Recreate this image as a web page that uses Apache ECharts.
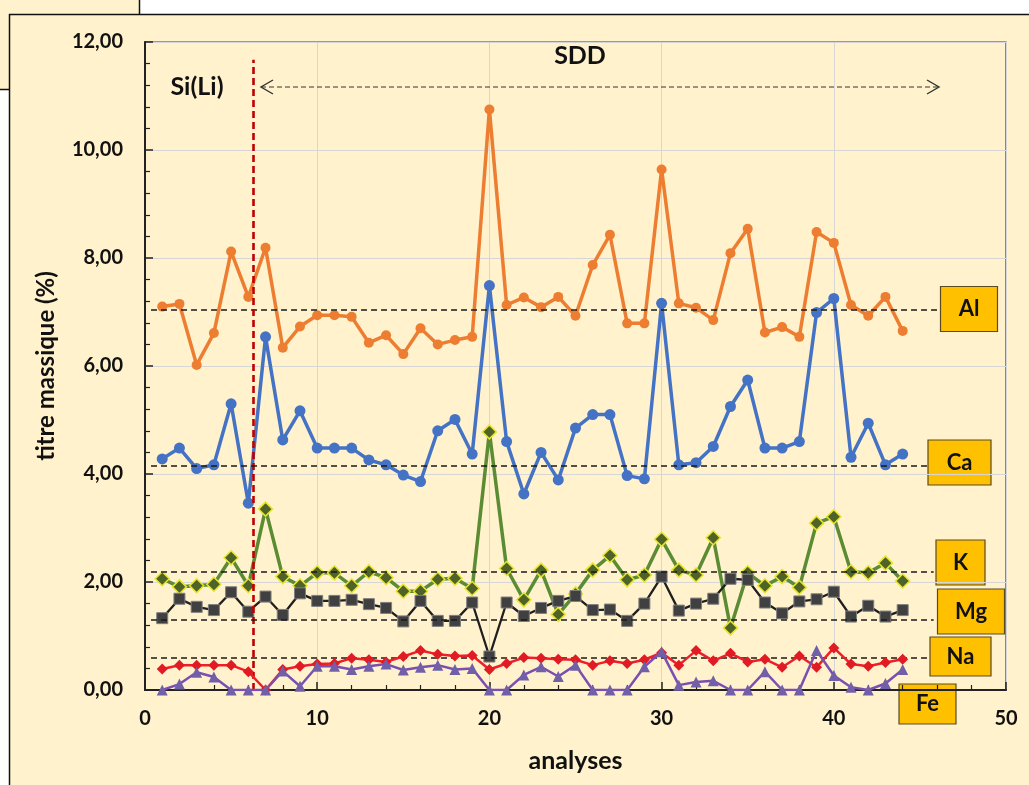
<!DOCTYPE html>
<html><head><meta charset="utf-8">
<script src="https://cdn.jsdelivr.net/npm/echarts@6/dist/echarts.min.js"></script>
<style>html,body{margin:0;padding:0;background:#fff;}#c{width:1029px;height:785px;}</style>
</head><body><div id="c"></div>
<script>
// ---- data ----
const analyses = [1,2,3,4,5,6,7,8,9,10,11,12,13,14,15,16,17,18,19,20,21,22,23,24,25,26,27,28,29,30,31,32,33,34,35,36,37,38,39,40,41,42,43,44];
const Al = [7.10,7.15,6.02,6.61,8.12,7.28,8.19,6.34,6.73,6.94,6.94,6.91,6.43,6.57,6.22,6.70,6.40,6.48,6.54,10.75,7.13,7.27,7.09,7.28,6.93,7.87,8.43,6.79,6.79,9.64,7.16,7.08,6.85,8.09,8.54,6.62,6.72,6.54,8.48,8.28,7.13,6.93,7.28,6.65];
const Ca = [4.28,4.48,4.10,4.17,5.30,3.46,6.54,4.63,5.17,4.48,4.48,4.48,4.26,4.17,3.98,3.86,4.80,5.01,4.37,7.49,4.60,3.63,4.40,3.89,4.85,5.10,5.10,3.97,3.91,7.16,4.17,4.21,4.51,5.25,5.74,4.48,4.48,4.60,6.99,7.25,4.31,4.94,4.17,4.37];
const K  = [2.06,1.91,1.93,1.96,2.45,1.93,3.35,2.10,1.93,2.17,2.17,1.93,2.19,2.08,1.83,1.83,2.05,2.07,1.88,4.78,2.25,1.67,2.22,1.40,1.78,2.22,2.49,2.04,2.13,2.79,2.22,2.13,2.82,1.15,2.17,1.93,2.10,1.90,3.09,3.21,2.19,2.17,2.35,2.02];
const Mg = [1.33,1.69,1.54,1.48,1.81,1.45,1.73,1.39,1.79,1.65,1.65,1.67,1.59,1.52,1.27,1.65,1.28,1.28,1.62,0.62,1.62,1.37,1.52,1.65,1.74,1.48,1.49,1.28,1.60,2.10,1.47,1.60,1.69,2.06,2.04,1.62,1.42,1.64,1.68,1.82,1.36,1.56,1.36,1.48];
const Na = [0.39,0.46,0.46,0.46,0.46,0.34,0.00,0.38,0.44,0.48,0.49,0.59,0.56,0.52,0.62,0.73,0.66,0.63,0.64,0.38,0.49,0.60,0.59,0.57,0.56,0.46,0.54,0.49,0.56,0.69,0.46,0.73,0.54,0.68,0.52,0.57,0.42,0.63,0.42,0.78,0.48,0.44,0.51,0.57];
const Fe = [0.00,0.11,0.33,0.24,0.00,0.00,0.00,0.35,0.07,0.44,0.44,0.38,0.44,0.48,0.37,0.42,0.46,0.38,0.40,0.00,0.00,0.28,0.43,0.25,0.46,0.00,0.00,0.00,0.43,0.71,0.09,0.15,0.17,0.00,0.00,0.34,0.00,0.00,0.73,0.27,0.05,0.00,0.12,0.38];
const refAl = 7.05, refCa = 4.15, refK = 2.19, refMg = 1.30, refNa = 0.60;
const detectorSwitch = 6.3;
const yTicks = [0,2,4,6,8,10,12];
const xTicks = [0,10,20,30,40,50];

const FONT = 'Lato, "Open Sans", sans-serif';
const pts = arr => analyses.map((x,i)=>[x, arr[i]]);
const refLine = (v, xEnd) => ({
  silent:true, symbol:['none','none'], animation:false,
  label:{show:false},
  lineStyle:{type:[6,4], color:'#1a1a1a', width:1.6},
  emphasis:{disabled:true},
  data:[[{coord:[0.35, v]},{coord:[xEnd, v]}]]
});

const chart = echarts.init(document.getElementById('c'), null, {renderer:'canvas'});

const box = (cx, cy, w, h, txt) => ({
  type:'group', z:100,
  children:[
    {type:'rect', shape:{x:cx-w/2, y:cy-h/2, width:w, height:h},
     style:{fill:'#FFC000', stroke:'#5a4a20', lineWidth:1.2}},
    {type:'text', x:cx, y:cy, style:{text:txt, fill:'#111', font:'bold 22px '+FONT, align:'center', verticalAlign:'middle'}}
  ]
});

const option = {
  backgroundColor:'#FFF2CC',
  animation:false,
  grid:{left:145, top:42, right:23, bottom:95, show:true, borderColor:'#404040', borderWidth:1.2, backgroundColor:'#FFF2CC'},
  xAxis:{
    type:'value', min:0, max:50, interval:10,
    name:'analyses', nameLocation:'middle', nameGap:58,
    nameTextStyle:{fontFamily:FONT, fontWeight:'bold', fontSize:25, color:'#111'},
    axisLine:{show:true, onZero:false, lineStyle:{color:'#222', width:2}},
    axisTick:{show:true, inside:true, length:8, lineStyle:{color:'#222', width:1.5}},
    minorTick:{show:true, splitNumber:5, length:5, lineStyle:{color:'#222', width:1.2}},
    splitLine:{show:true, lineStyle:{color:'#D6D6D6', width:1}},
    axisLabel:{margin:19, fontFamily:FONT, fontWeight:'bold', fontSize:20, color:'#111',
      formatter: v => xTicks.includes(v) ? String(v) : ''}
  },
  yAxis:{
    type:'value', min:0, max:12, interval:2,
    name:'titre massique (%)', nameLocation:'middle', nameGap:87,
    nameTextStyle:{fontFamily:FONT, fontWeight:'bold', fontSize:24, color:'#111'},
    axisLine:{show:true, lineStyle:{color:'#222', width:2}},
    axisTick:{show:true, inside:true, length:8, lineStyle:{color:'#222', width:1.5}},
    minorTick:{show:true, splitNumber:5, length:5, lineStyle:{color:'#222', width:1.2}},
    splitLine:{show:true, lineStyle:{color:'#D6D6D6', width:1}},
    axisLabel:{margin:22, fontFamily:FONT, fontWeight:'bold', fontSize:20, color:'#111',
      formatter: v => yTicks.includes(v) ? v.toFixed(2).replace('.', ',') : ''}
  },
  series:[
    {name:'Al', type:'line', data:pts(Al), symbol:'circle', symbolSize:10,
     lineStyle:{color:'#ED7D31', width:3.5}, itemStyle:{color:'#ED7D31'}, z:2,
     markLine:{
       silent:true, symbol:['none','none'], animation:false, label:{show:false},
       emphasis:{disabled:true},
       data:[
         [{coord:[0.35, refAl], lineStyle:{type:[6,4], color:'#1a1a1a', width:1.6}},{coord:[46.2, refAl]}],
         [{coord:[detectorSwitch, 0], lineStyle:{type:[7,4], color:'#C00000', width:2.6}},{coord:[detectorSwitch, 11.67]}]
       ]
     }},
    {name:'Ca', type:'line', data:pts(Ca), symbol:'circle', symbolSize:11,
     lineStyle:{color:'#4472C4', width:3.5}, itemStyle:{color:'#4472C4'}, z:2,
     markLine:refLine(refCa, 45.5)},
    {name:'K', type:'line', data:pts(K), symbol:'diamond', symbolSize:14,
     lineStyle:{color:'#5B8C34', width:3.5}, itemStyle:{color:'#4F6228', borderColor:'#E6E62A', borderWidth:1.5}, z:3,
     markLine:refLine(refK, 45.8)},
    {name:'Mg', type:'line', data:pts(Mg), symbol:'rect', symbolSize:11,
     lineStyle:{color:'#1f1f1f', width:2.3}, itemStyle:{color:'#404040', borderColor:'#7f7f7f', borderWidth:1}, z:4,
     markLine:refLine(refMg, 45.8)},
    {name:'Na', type:'line', data:pts(Na), symbol:'diamond', symbolSize:11,
     lineStyle:{color:'#F01E28', width:2.5}, itemStyle:{color:'#E01B24'}, z:5,
     markLine:refLine(refNa, 45.5)},
    {name:'Fe', type:'line', data:pts(Fe), symbol:'triangle', symbolSize:11,
     lineStyle:{color:'#7A4FB0', width:2.5}, itemStyle:{color:'#7160A8'}, z:6}
  ],
  graphic:[
    // frame remnants
    {type:'rect', z:-1, shape:{x:139, y:0, width:900, height:14}, style:{fill:'#ffffff'}},
    {type:'rect', z:-1, shape:{x:0, y:89, width:9, height:700}, style:{fill:'#ffffff'}},
    {type:'line', shape:{x1:139.5, y1:0, x2:139.5, y2:14}, style:{stroke:'#111', lineWidth:1.5}},
    {type:'line', shape:{x1:0, y1:89.5, x2:9, y2:89.5}, style:{stroke:'#111', lineWidth:1.5}},
    {type:'line', shape:{x1:9.5, y1:14, x2:9.5, y2:785}, style:{stroke:'#111', lineWidth:1.5}},
    {type:'line', shape:{x1:9, y1:14.5, x2:1029, y2:14.5}, style:{stroke:'#111', lineWidth:1.5}},
    // annotations
    {type:'text', x:197, y:87, z:50, style:{text:'Si(Li)', fill:'#111', font:'bold 25px '+FONT, align:'center', verticalAlign:'middle'}},
    {type:'text', x:580, y:56, z:50, style:{text:'SDD', fill:'#111', font:'bold 25px '+FONT, align:'center', verticalAlign:'middle'}},
    {type:'line', z:50, shape:{x1:261, y1:87, x2:939, y2:87}, style:{stroke:'#333', lineWidth:1.2, lineDash:[5,3]}},
    {type:'polyline', z:50, shape:{points:[[273,80],[261,87],[273,94]]}, style:{stroke:'#333', lineWidth:1.4, fill:null}},
    {type:'polyline', z:50, shape:{points:[[927,80],[939,87],[927,94]]}, style:{stroke:'#333', lineWidth:1.4, fill:null}},
    box(969, 309, 57, 45, 'Al'),
    box(959.5, 462.5, 63, 45, 'Ca'),
    box(960.5, 562.5, 49, 45, 'K'),
    box(971, 611.5, 67, 45, 'Mg'),
    box(960.5, 656.5, 61, 39, 'Na'),
    box(927.5, 704, 57, 40, 'Fe')
  ]
};
chart.setOption(option);
</script>
</body></html>
